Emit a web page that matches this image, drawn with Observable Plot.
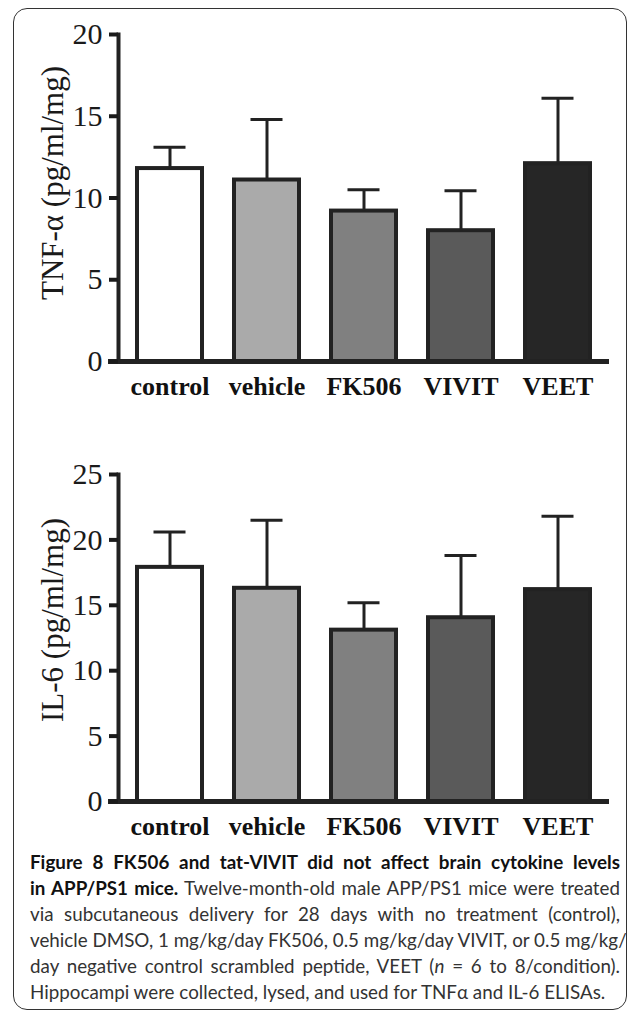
<!DOCTYPE html>
<html><head><meta charset="utf-8">
<script src="https://cdn.jsdelivr.net/npm/d3@7"></script>
<script src="https://cdn.jsdelivr.net/npm/@observablehq/plot@0.6"></script>
<style>
body{margin:0;background:#fff;}
#wrap{position:relative;width:637px;height:1013px;overflow:hidden;background:#fff;}
#border{position:absolute;left:13px;top:8px;width:614px;height:1002px;border:1.5px solid #333;border-radius:14px;box-sizing:border-box;}
#c1{position:absolute;left:0;top:0;}
#c2{position:absolute;left:0;top:440px;}
#cap{position:absolute;left:30px;top:849px;width:590px;font-family:Lato,sans-serif;font-size:18.8px;line-height:26px;color:#333;}
#cap div{white-space:nowrap;}
#cap .j{text-align:justify;text-align-last:justify;}
#cap b{color:#111;}
</style>
</head><body>
<div id="wrap">
  <div id="border"></div>
  <div id="c1"></div>
  <div id="c2"></div>
  <div id="cap">
    <div class="j"><b>Figure 8 FK506 and tat-VIVIT did not affect brain cytokine levels</b></div>
    <div class="j"><b>in APP/PS1 mice.</b> Twelve-month-old male APP/PS1 mice were treated</div>
    <div class="j">via subcutaneous delivery for 28 days with no treatment (control),</div>
    <div class="j">vehicle DMSO, 1 mg/kg/day FK506, 0.5 mg/kg/day VIVIT, or 0.5 mg/kg/</div>
    <div class="j">day negative control scrambled peptide, VEET (<i>n</i> = 6 to 8/condition).</div>
    <div>Hippocampi were collected, lysed, and used for TNFα and IL-6 ELISAs.</div>
  </div>
</div>
<script>
const categories = ["control", "vehicle", "FK506", "VIVIT", "VEET"];
const fills = ["#ffffff", "#aaaaaa", "#808080", "#5a5a5a", "#262626"];
const tnfMean = [11.8, 11.1, 9.2, 8.0, 12.1];
const tnfErr = [1.3, 3.7, 1.3, 2.45, 4.0];
const il6Mean = [17.9, 16.3, 13.1, 14.05, 16.2];
const il6Err = [2.7, 5.2, 2.1, 4.75, 5.6];
const tnfTicks = [0, 5, 10, 15, 20];
const il6Ticks = [0, 5, 10, 15, 20, 25];
const tnfLabel = "TNF-α (pg/ml/mg)";
const il6Label = "IL-6 (pg/ml/mg)";

function chart(means, errs, ticks, label, dy) {
  const data = categories.map((c, i) => ({cat: c, mean: means[i], upper: means[i] + errs[i]}));
  return Plot.plot({
    width: 637, height: 410,
    marginTop: 34, marginBottom: 49, marginLeft: 118, marginRight: 28,
    style: {background: "transparent", fontFamily: "'Liberation Serif', 'Times New Roman', serif", color: "#111", overflow: "visible"},
    x: {domain: categories, paddingInner: 0.325, paddingOuter: 0.17, label: null},
    y: {domain: [0, ticks[ticks.length - 1]], label: null},
    color: {domain: categories, range: fills},
    marks: [
      Plot.barY(data, {x: "cat", y: "mean", fill: "cat", stroke: "#222", strokeWidth: 4}),
      Plot.ruleX(data, {x: "cat", y1: "mean", y2: "upper", stroke: "#222", strokeWidth: 3}),
      Plot.tickY(data, {x: "cat", y: "upper", stroke: "#222", strokeWidth: 3, insetLeft: 16.5, insetRight: 16.5}),
      Plot.ruleY([0], {stroke: "#222", strokeWidth: 5, insetLeft: -10}),
      Plot.frame({anchor: "left", stroke: "#222", strokeWidth: 4}),
      Plot.axisY({ticks: ticks, tickSize: 9, tickPadding: 7, strokeWidth: 4, fontSize: 30, color: "#1a1a1a", tickFormat: d => String(d), label: null}),
      Plot.axisX({tickSize: 0, tickPadding: 15, fontSize: 26, fontWeight: "bold", color: "#111", label: null}),
      Plot.text([label], {frameAnchor: "left", rotate: -90, dx: -65, dy: dy, fontSize: 31, fill: "#1a1a1a", textAnchor: "middle", lineAnchor: "middle"})
    ]
  });
}
document.getElementById("c1").appendChild(chart(tnfMean, tnfErr, tnfTicks, tnfLabel, -15));
document.getElementById("c2").appendChild(chart(il6Mean, il6Err, il6Ticks, il6Label, -18));
</script>
</body></html>
